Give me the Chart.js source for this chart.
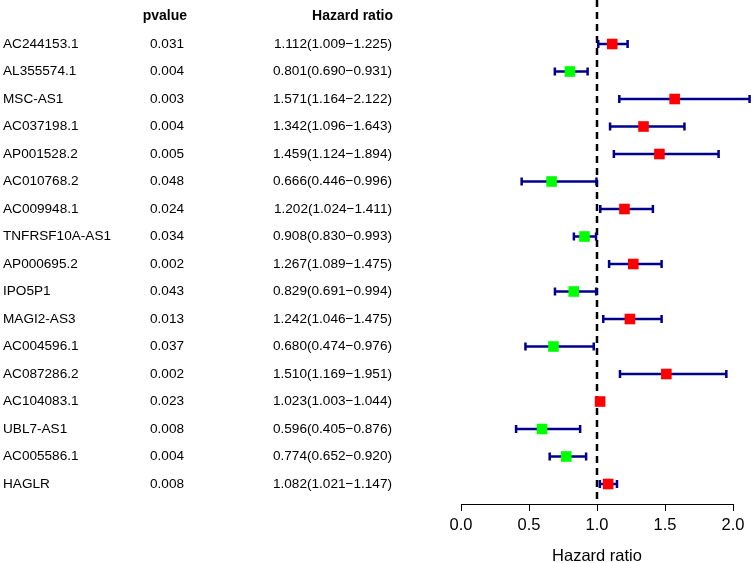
<!DOCTYPE html>
<html>
<head>
<meta charset="utf-8">
<script src="https://cdn.jsdelivr.net/npm/chart.js@4"></script>
<style>
  html, body { margin: 0; padding: 0; background: #fff; }
  canvas { display: block; }
</style>
</head>
<body>
<canvas id="forest" width="753" height="563"></canvas>
<script>
// rows, top to bottom
const genes = ['AC244153.1', 'AL355574.1', 'MSC-AS1', 'AC037198.1', 'AP001528.2', 'AC010768.2',
  'AC009948.1', 'TNFRSF10A-AS1', 'AP000695.2', 'IPO5P1', 'MAGI2-AS3', 'AC004596.1',
  'AC087286.2', 'AC104083.1', 'UBL7-AS1', 'AC005586.1', 'HAGLR'];
const pvalues = ['0.031', '0.004', '0.003', '0.004', '0.005', '0.048', '0.024', '0.034', '0.002',
  '0.043', '0.013', '0.037', '0.002', '0.023', '0.008', '0.004', '0.008'];
const hr = [1.112, 0.801, 1.571, 1.342, 1.459, 0.666, 1.202, 0.908, 1.267, 0.829, 1.242, 0.680,
  1.510, 1.023, 0.596, 0.774, 1.082];
const hrLow = [1.009, 0.690, 1.164, 1.096, 1.124, 0.446, 1.024, 0.830, 1.089, 0.691, 1.046, 0.474,
  1.169, 1.003, 0.405, 0.652, 1.021];
const hrHigh = [1.225, 0.931, 2.122, 1.643, 1.894, 0.996, 1.411, 0.993, 1.475, 0.994, 1.475, 0.976,
  1.951, 1.044, 0.876, 0.920, 1.147];
const xTicks = [0, 0.5, 1, 1.5, 2];

const FONT = '"Liberation Sans", Arial, sans-serif';
const hrText = (i) => `${hr[i].toFixed(3)}(${hrLow[i].toFixed(3)}\u2212${hrHigh[i].toFixed(3)})`;

const tablePlugin = {
  id: 'table',
  beforeDatasetsDraw(chart) {
    const { ctx, chartArea, scales: { x, y } } = chart;
    ctx.save();
    // reference line at HR = 1
    ctx.strokeStyle = '#000';
    ctx.lineWidth = 2.5;
    ctx.setLineDash([7, 5]);
    ctx.beginPath();
    ctx.moveTo(x.getPixelForValue(1), chartArea.top);
    ctx.lineTo(x.getPixelForValue(1), chartArea.bottom);
    ctx.stroke();
    ctx.setLineDash([]);

    // confidence intervals
    ctx.strokeStyle = '#00008B';
    ctx.lineWidth = 2.5;
    hr.forEach((v, i) => {
      const py = y.getPixelForValue(i);
      const x0 = x.getPixelForValue(hrLow[i]);
      const x1 = x.getPixelForValue(hrHigh[i]);
      ctx.beginPath();
      ctx.moveTo(x0, py); ctx.lineTo(x1, py);
      ctx.moveTo(x0, py - 4); ctx.lineTo(x0, py + 4);
      ctx.moveTo(x1, py - 4); ctx.lineTo(x1, py + 4);
      ctx.stroke();
    });

    // text table on the left
    ctx.fillStyle = '#000';
    ctx.textBaseline = 'middle';
    const hy = y.getPixelForValue(-1);
    ctx.font = `bold 14px ${FONT}`;
    ctx.textAlign = 'right';
    ctx.fillText('pvalue', 187, hy);
    ctx.fillText('Hazard ratio', 393, hy);
    ctx.font = `13.6px ${FONT}`;
    genes.forEach((g, i) => {
      const py = y.getPixelForValue(i);
      ctx.textAlign = 'left';
      ctx.fillText(g, 3, py);
      ctx.textAlign = 'right';
      ctx.fillText(pvalues[i], 184, py);
      ctx.fillText(hrText(i), 392, py);
    });
    ctx.restore();
  }
};

new Chart(document.getElementById('forest'), {
  type: 'scatter',
  data: {
    datasets: [{
      data: hr.map((v, i) => ({ x: v, y: i })),
      pointStyle: 'rect',
      pointRadius: 7.5,
      pointBorderWidth: 0,
      pointBackgroundColor: hr.map(v => v > 1 ? '#FF0000' : '#00FF00'),
    }]
  },
  options: {
    responsive: false,
    animation: false,
    layout: { autoPadding: false, padding: { left: 461, right: 20, top: 0, bottom: 0 } },
    plugins: { legend: { display: false }, tooltip: { enabled: false } },
    scales: {
      x: {
        type: 'linear',
        min: 0,
        max: 2,
        afterBuildTicks: (s) => { s.ticks = xTicks.map(v => ({ value: v })); },
        afterFit: (s) => { s.height = 59; },
        grid: { drawOnChartArea: false, drawTicks: true, tickLength: 7, tickColor: '#000', tickWidth: 1 },
        border: { display: true, color: '#000', width: 1 },
        ticks: {
          color: '#000',
          padding: 5,
          maxRotation: 0,
          font: { family: FONT, size: 16.5 },
          callback: (v) => v.toFixed(1),
        },
        title: {
          display: true,
          text: 'Hazard ratio',
          color: '#000',
          padding: { top: 0, bottom: 0 },
          font: { family: FONT, size: 16.5, lineHeight: 0.75 },
        },
      },
      y: {
        type: 'linear',
        reverse: true,
        min: -1.6,
        max: 16.727,
        display: false,
      },
    },
  },
  plugins: [tablePlugin],
});
</script>
</body>
</html>
